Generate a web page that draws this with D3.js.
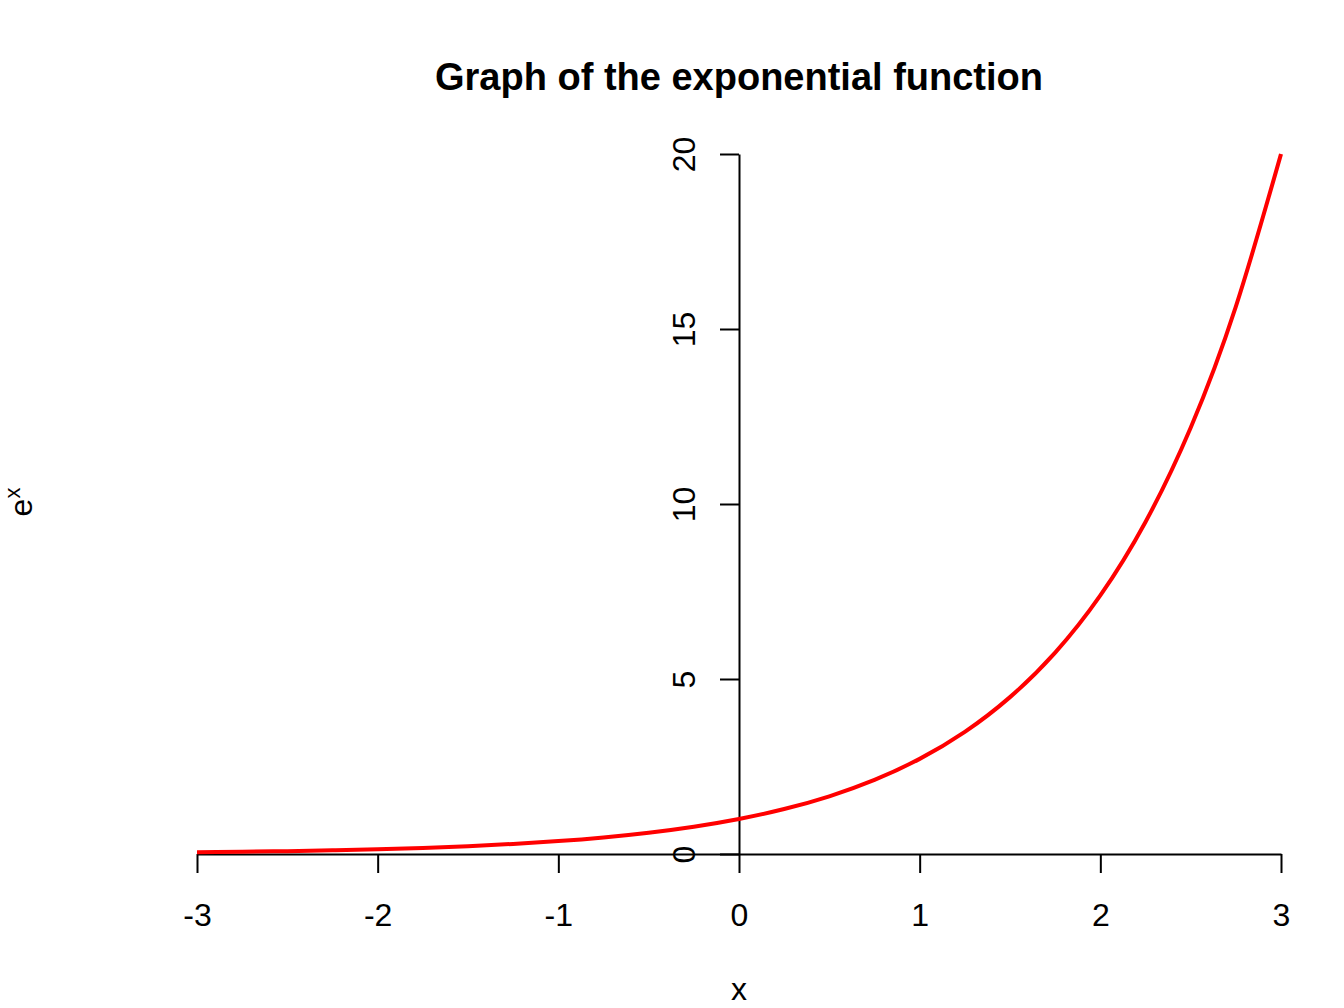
<!DOCTYPE html>
<html>
<head>
<meta charset="utf-8">
<script src="https://cdn.jsdelivr.net/npm/d3@7"></script>
<style>
  html, body { margin: 0; padding: 0; background: #fff; }
  svg text { font-family: "Liberation Sans", Arial, Helvetica, sans-serif; fill: #000; }
</style>
</head>
<body>
<svg id="chart" width="1344" height="1008"></svg>
<script>
// Data (curve of e^x)
const xValues = [-3, -2.75, -2.5, -2.25, -2, -1.75, -1.5, -1.25, -1, -0.75, -0.5, -0.25, 0,
                 0.25, 0.5, 0.75, 1, 1.25, 1.5, 1.75, 2, 2.25, 2.5, 2.75, 3];
const yValues = [0.050, 0.064, 0.082, 0.105, 0.135, 0.174, 0.223, 0.287, 0.368, 0.472, 0.607, 0.779, 1.0,
                 1.284, 1.649, 2.117, 2.718, 3.490, 4.482, 5.755, 7.389, 9.488, 12.18, 15.64, 20.0];
const xTicks = [-3, -2, -1, 0, 1, 2, 3];
const yTicks = [0, 5, 10, 15, 20];
const titleText = "Graph of the exponential function";
const xLabel = "x";

const svg = d3.select("#chart");
const x = d3.scaleLinear().domain([-3, 3]).range([197, 1281]);
const y = d3.scaleLinear().domain([0, 20]).range([854, 154]);

// x axis at y = 0
const xAxis = svg.append("g")
  .attr("transform", `translate(0,${y(0)})`)
  .call(d3.axisBottom(x).tickValues(xTicks).tickSize(19).tickSizeOuter(0).tickFormat(d3.format("d")));
xAxis.select(".domain").attr("stroke", "#000").attr("stroke-width", 2);
xAxis.selectAll(".tick line").attr("stroke", "#000").attr("stroke-width", 2);
xAxis.selectAll(".tick text")
  .attr("y", 72).attr("dy", 0)
  .style("font-size", "32px").style("font-family", "'Liberation Sans', Arial, sans-serif")
  .text(d => d < 0 ? "-" + Math.abs(d) : String(d));

// y axis at x = 0
const yAxis = svg.append("g")
  .attr("transform", `translate(${x(0)},0)`)
  .call(d3.axisLeft(y).tickValues(yTicks).tickSize(19).tickSizeOuter(0));
yAxis.select(".domain").attr("stroke", "#000").attr("stroke-width", 2);
yAxis.selectAll(".tick line").attr("stroke", "#000").attr("stroke-width", 2);
yAxis.selectAll(".tick text")
  .attr("transform", "rotate(-90)")
  .attr("x", 0).attr("y", -44).attr("dy", 0)
  .attr("text-anchor", "middle")
  .style("font-size", "32px").style("font-family", "'Liberation Sans', Arial, sans-serif");

// curve
const line = d3.line()
  .x((d, i) => x(xValues[i]))
  .y(d => y(d))
  .curve(d3.curveNatural);
svg.append("path")
  .datum(yValues)
  .attr("fill", "none")
  .attr("stroke", "#ff0000")
  .attr("stroke-width", 4)
  .attr("stroke-linejoin", "round")
  .attr("d", line);

// title
svg.append("text")
  .attr("x", 739).attr("y", 90)
  .attr("text-anchor", "middle")
  .style("font-size", "38px").style("font-weight", "bold")
  .text(titleText);

// x label
svg.append("text")
  .attr("x", 739).attr("y", 1000)
  .attr("text-anchor", "middle")
  .style("font-size", "32px")
  .text(xLabel);

// y label e^x
const yl = svg.append("text")
  .attr("transform", "translate(32,502) rotate(-90)")
  .attr("text-anchor", "middle")
  .style("font-size", "32px");
yl.append("tspan").text("e");
yl.append("tspan").attr("dy", -12).style("font-size", "22px").text("x");
</script>
</body>
</html>
